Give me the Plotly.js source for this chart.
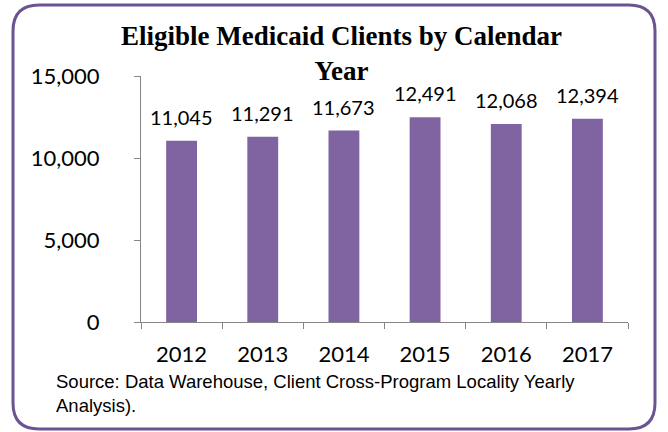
<!DOCTYPE html>
<html>
<head>
<meta charset="utf-8">
<script src="https://cdn.plot.ly/plotly-3.0.1.min.js"></script>
<style>
html,body{margin:0;padding:0;background:#fff;}
#chart{width:668px;height:432px;}
</style>
</head>
<body>
<div id="chart"></div>
<script>
var years = ['2012', '2013', '2014', '2015', '2016', '2017'];
var clients = [11045, 11291, 11673, 12491, 12068, 12394];
var yTicks = [0, 5000, 10000, 15000];
var yTickLabels = ['0', '5,000', '10,000', '15,000'];
var titleText = 'Eligible Medicaid Clients by Calendar<br>Year';
var sourceText = 'Source: Data Warehouse, Client Cross-Program Locality Yearly<br>Analysis).';

var W = 668, H = 432;
var M = {l: 141, r: 40, t: 76, b: 110};
var pw = W - M.l - M.r, ph = H - M.t - M.b;
function px(x){ return (x - M.l) / pw; }
function py(y){ return (H - M.b - y) / ph; }

// rounded border in paper coords
var bx0 = 13, bx1 = 655, by0 = 5, by1 = 429, rad = 26;
function P(x, y){ return px(x).toFixed(5) + ',' + py(y).toFixed(5); }
var borderPath = 'M' + P(bx0 + rad, by0) + ' L' + P(bx1 - rad, by0) +
  ' Q' + P(bx1, by0) + ' ' + P(bx1, by0 + rad) +
  ' L' + P(bx1, by1 - rad) + ' Q' + P(bx1, by1) + ' ' + P(bx1 - rad, by1) +
  ' L' + P(bx0 + rad, by1) + ' Q' + P(bx0, by1) + ' ' + P(bx0, by1 - rad) +
  ' L' + P(bx0, by0 + rad) + ' Q' + P(bx0, by0) + ' ' + P(bx0 + rad, by0) + ' Z';

var labelAnn = years.map(function(y, i){
  return {
    x: i, y: clients[i], xref: 'x', yref: 'y',
    text: clients[i].toLocaleString('en-US'),
    showarrow: false, yanchor: 'middle', yshift: 24,
    font: {family: 'Lato, sans-serif', size: 20, color: '#000'}
  };
});

var data = [{
  type: 'bar',
  x: years,
  y: clients,
  marker: {color: '#8064A2'},
  hoverinfo: 'x+y'
}];

var layout = {
  width: W, height: H,
  margin: M,
  paper_bgcolor: '#fff', plot_bgcolor: '#fff',
  showlegend: false,
  bargap: 0.62,
  annotations: labelAnn.concat([{
    xref: 'paper', yref: 'paper',
    x: px(341), y: py(53), xanchor: 'center', yanchor: 'middle', align: 'center',
    text: '<b>' + titleText + '</b>', showarrow: false,
    font: {family: 'Liberation Serif, serif', size: 27, color: '#000'}
  }, {
    xref: 'paper', yref: 'paper',
    x: px(54), y: py(393), xanchor: 'left', yanchor: 'middle', align: 'left',
    text: sourceText, showarrow: false,
    font: {family: 'Liberation Sans, Arial, sans-serif', size: 18.5, color: '#000'}
  }]),
  xaxis: {
    type: 'category',
    range: [-0.5, 5.5],
    showline: true, linecolor: '#868686', linewidth: 1,
    ticks: 'outside', tickson: 'boundaries', ticklen: 6, tickcolor: '#868686',
    tickfont: {family: 'Lato, sans-serif', size: 22, color: '#000'},
    ticklabelstandoff: 13,
    showgrid: false, zeroline: false
  },
  yaxis: {
    range: [0, 15000],
    tickvals: yTicks, ticktext: yTickLabels,
    showline: true, linecolor: '#868686', linewidth: 1,
    ticks: 'outside', ticklen: 6, tickcolor: '#868686',
    tickfont: {family: 'Lato, sans-serif', size: 22, color: '#000'},
    ticklabelstandoff: 30,
    showgrid: false, zeroline: false
  },
  shapes: [{
    type: 'path', xref: 'paper', yref: 'paper',
    path: borderPath,
    line: {color: '#6B5491', width: 3},
    fillcolor: 'rgba(0,0,0,0)', layer: 'above'
  }]
};

Plotly.newPlot('chart', data, layout, {displayModeBar: false, staticPlot: true});
</script>
</body>
</html>
